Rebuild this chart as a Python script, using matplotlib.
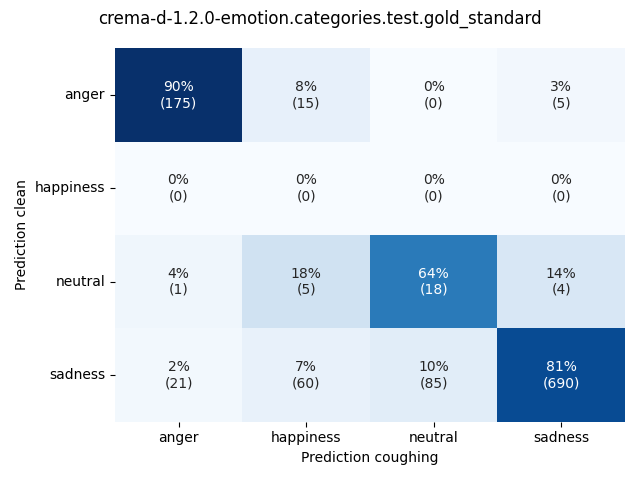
import numpy as np
import matplotlib
matplotlib.use("Agg")
import matplotlib.pyplot as plt
import seaborn as sns

labels = ["anger", "happiness", "neutral", "sadness"]
counts = np.array([
    [175, 15, 0, 5],
    [0, 0, 0, 0],
    [1, 5, 18, 4],
    [21, 60, 85, 690],
])
title = "crema-d-1.2.0-emotion.categories.test.gold_standard"

row_sums = counts.sum(axis=1, keepdims=True)
pct = np.divide(counts * 100.0, row_sums, out=np.zeros(counts.shape), where=row_sums > 0)
annot = np.array([[f"{int(round(p))}%\n({c})" for p, c in zip(pr, cr)] for pr, cr in zip(pct, counts)])

fig, ax = plt.subplots(figsize=(6.4, 4.8), dpi=100)
sns.heatmap(pct, annot=annot, fmt="", cmap="Blues", cbar=False,
            xticklabels=labels, yticklabels=labels, ax=ax)
ax.set_yticklabels(labels, rotation=0)
ax.set_xlabel("Prediction coughing")
ax.set_ylabel("Prediction clean")
fig.suptitle(title)
fig.tight_layout()
fig.savefig("out.png", dpi=100)
